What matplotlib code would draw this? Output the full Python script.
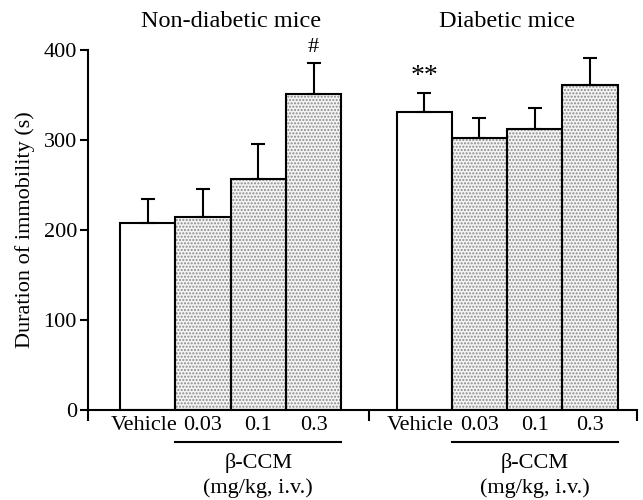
import matplotlib
matplotlib.use("Agg")
import matplotlib.pyplot as plt
import matplotlib.transforms as mtransforms
import numpy as np

plt.rcParams['font.family'] = ['Liberation Serif', 'DejaVu Serif']
plt.rcParams['hatch.linewidth'] = 1.0

groups = ["Non-diabetic mice", "Diabetic mice"]
dose_labels = ["Vehicle", "0.03", "0.1", "0.3"]
nondiabetic_mean = [208, 215, 257, 351]
nondiabetic_sem = [27, 31, 39, 35]
diabetic_mean = [331, 302, 312, 361]
diabetic_sem = [21, 23, 24, 30]
yticks = [0, 100, 200, 300, 400]

fig = plt.figure(figsize=(6.43, 5.0), dpi=100)
ax = fig.add_axes([88/643, 90/500, 549/643, 360/500])

pos_nd = np.arange(4)
pos_d = np.arange(4) + 5
positions = np.concatenate([pos_nd, pos_d])
means = nondiabetic_mean + diabetic_mean
sems = nondiabetic_sem + diabetic_sem
width = 1.0

for i, (x, m, s) in enumerate(zip(positions, means, sems)):
    is_vehicle = (i % 4 == 0)
    if not is_vehicle:
        ax.bar(x, m, width=width, color='#f4f4f4', edgecolor='#8a8a8a',
               hatch='.....', linewidth=0, zorder=1)
    else:
        ax.bar(x, m, width=width, color='white', linewidth=0, zorder=1)
    ax.bar(x, m, width=width, fill=False, edgecolor='black', linewidth=1.5, zorder=2)
    ax.errorbar(x, m, yerr=[[0], [s]], fmt='none', ecolor='black',
                elinewidth=1.5, capsize=5, capthick=1.5, zorder=3)

xmin, xmax = -1.08, 8.85
ax.set_xlim(xmin, xmax)
ax.set_ylim(0, 400)
ax.set_yticks(yticks)
ax.tick_params(axis='y', direction='out', length=6, width=1.5, labelsize=16, pad=2)
ax.set_xticks(positions)
ax.set_xticklabels(dose_labels + dose_labels, fontsize=16)
ax.tick_params(axis='x', which='major', length=0, pad=4)
ax.set_xticks([xmin, 4, xmax], minor=True)
ax.tick_params(axis='x', which='minor', direction='out', length=8, width=1.5)
for sp in ['top', 'right']:
    ax.spines[sp].set_visible(False)
for sp in ['left', 'bottom']:
    ax.spines[sp].set_linewidth(1.5)

# shift "Vehicle" labels slightly left like the reference
shift = mtransforms.ScaledTranslation(-4/100, 0, fig.dpi_scale_trans)
for lbl in ax.get_xticklabels()[0::4]:
    lbl.set_transform(lbl.get_transform() + shift)

ax.set_ylabel("Duration of immobility (s)", fontsize=16, labelpad=6)

tr = ax.get_xaxis_transform()
for start, title in zip([0, 5], groups):
    ax.text(start + 1.5, 1.078, title, transform=tr, ha='center', va='center', fontsize=17.5)
    ax.plot([start + 0.5, start + 3.5], [-0.089, -0.089], transform=tr,
            color='black', linewidth=1.5, clip_on=False)
    ax.text(start + 2.0, -0.146, "β-CCM", transform=tr, ha='center', va='center', fontsize=16)
    ax.text(start + 2.0, -0.218, "(mg/kg, i.v.)", transform=tr, ha='center', va='center', fontsize=16)

ax.text(3, 392, "#", ha='center', va='bottom', fontsize=16)
ax.text(5, 357, "**", ha='center', va='bottom', fontsize=20)

fig.savefig("out.png", dpi=100)
